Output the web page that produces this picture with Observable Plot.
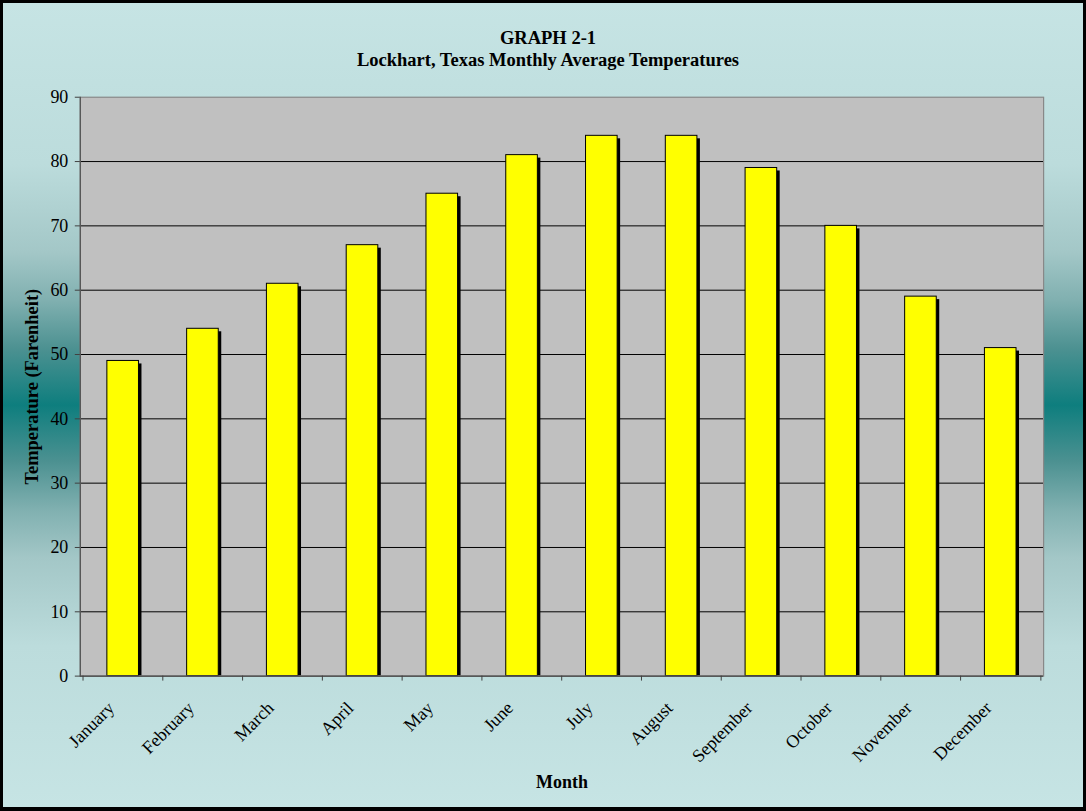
<!DOCTYPE html>
<html>
<head>
<meta charset="utf-8">
<script src="https://cdn.jsdelivr.net/npm/d3@7"></script>
<script src="https://cdn.jsdelivr.net/npm/@observablehq/plot@0.6"></script>
<style>
  html, body { margin: 0; padding: 0; }
  #wrap {
    position: relative; width: 1086px; height: 811px; box-sizing: border-box;
    border: 3px solid #000; border-bottom-width: 4px;
    background: linear-gradient(to bottom, #c6e4e4 0%, #bcdcdc 20%, #a3c7c7 31%, #80b0b0 37%, #4c9191 43%, #0e7e7e 50%, #4c9191 57%, #80b0b0 63%, #a3c7c7 69%, #bcdcdc 80%, #c6e4e4 100%);
    font-family: "Liberation Serif", "Times New Roman", serif;
  }
  #chart { position: absolute; left: -3px; top: -3px; }
  #title {
    position: absolute; left: -3px; width: 1096px; top: 24px; text-align: center;
    font-weight: bold; font-size: 18.5px; line-height: 22px; color: #000;
  }
</style>
</head>
<body>
<div id="wrap">
  <div id="title">GRAPH 2-1<br>Lockhart, Texas Monthly Average Temperatures</div>
  <div id="chart"></div>
</div>
<script>
const months = ["January","February","March","April","May","June","July","August","September","October","November","December"];
const temps = [49, 54, 61, 67, 75, 81, 84, 84, 79, 70, 59, 51];
const yTicks = [0, 10, 20, 30, 40, 50, 60, 70, 80, 90];
const yLabel = "Temperature (Farenheit)";
const xLabel = "Month";

const data = months.map((m, i) => ({month: m, temp: temps[i]}));

const W = 1086, H = 811;
const mL = 80, mR = 40, mT = 97, mB = 133.5;
const step = (W - mL - mR) / months.length;
const inset = step * 0.3;

const chart = Plot.plot({
  width: W, height: H,
  marginLeft: mL, marginRight: mR, marginTop: mT, marginBottom: mB,
  style: {background: "transparent", fontFamily: "'Liberation Serif', 'Times New Roman', serif", color: "#000", overflow: "visible"},
  x: {domain: months, padding: 0},
  y: {domain: [0, 90]},
  marks: [
    Plot.frame({fill: "#c0c0c0", stroke: null}),
    Plot.ruleY(yTicks.filter(d => d > 0 && d < 90), {stroke: "#000", strokeWidth: 1}),
    Plot.barY(data, {x: "month", y: "temp", fill: "#000", insetLeft: inset, insetRight: inset, dx: 3, dy: 3, clip: "frame"}),
    Plot.barY(data, {x: "month", y: "temp", fill: "#ffff00", stroke: "#000", strokeWidth: 1, insetLeft: inset, insetRight: inset}),
    Plot.frame({stroke: "#888888", strokeWidth: 1.2}),
    Plot.ruleY([0], {stroke: "#404040", strokeWidth: 1.2}),
    Plot.frame({anchor: "left", stroke: "#505050", strokeWidth: 1.2}),
    Plot.axisY({ticks: yTicks, tickSize: 5, tickPadding: 7, fontSize: 18, label: null, stroke: "#404040"}),
    Plot.axisX({tickSize: 0, tickRotate: -45, tickPadding: 29, dx: -12, fontSize: 18, label: null}),
    Plot.axisX({text: null, tickSize: 5, dx: -step / 2, label: null, stroke: "#404040"}),
    Plot.axisX([months[months.length - 1]], {text: null, tickSize: 5, dx: step / 2, label: null, stroke: "#404040"}),
    Plot.text([yLabel], {text: d => d, frameAnchor: "left", textAnchor: "middle", rotate: -90, dx: -48, fontSize: 18.5, fontWeight: "bold"}),
    Plot.text([xLabel], {text: d => d, frameAnchor: "bottom", lineAnchor: "middle", dy: 106, fontSize: 18, fontWeight: "bold"})
  ]
});
document.getElementById("chart").appendChild(chart);
</script>
</body>
</html>
